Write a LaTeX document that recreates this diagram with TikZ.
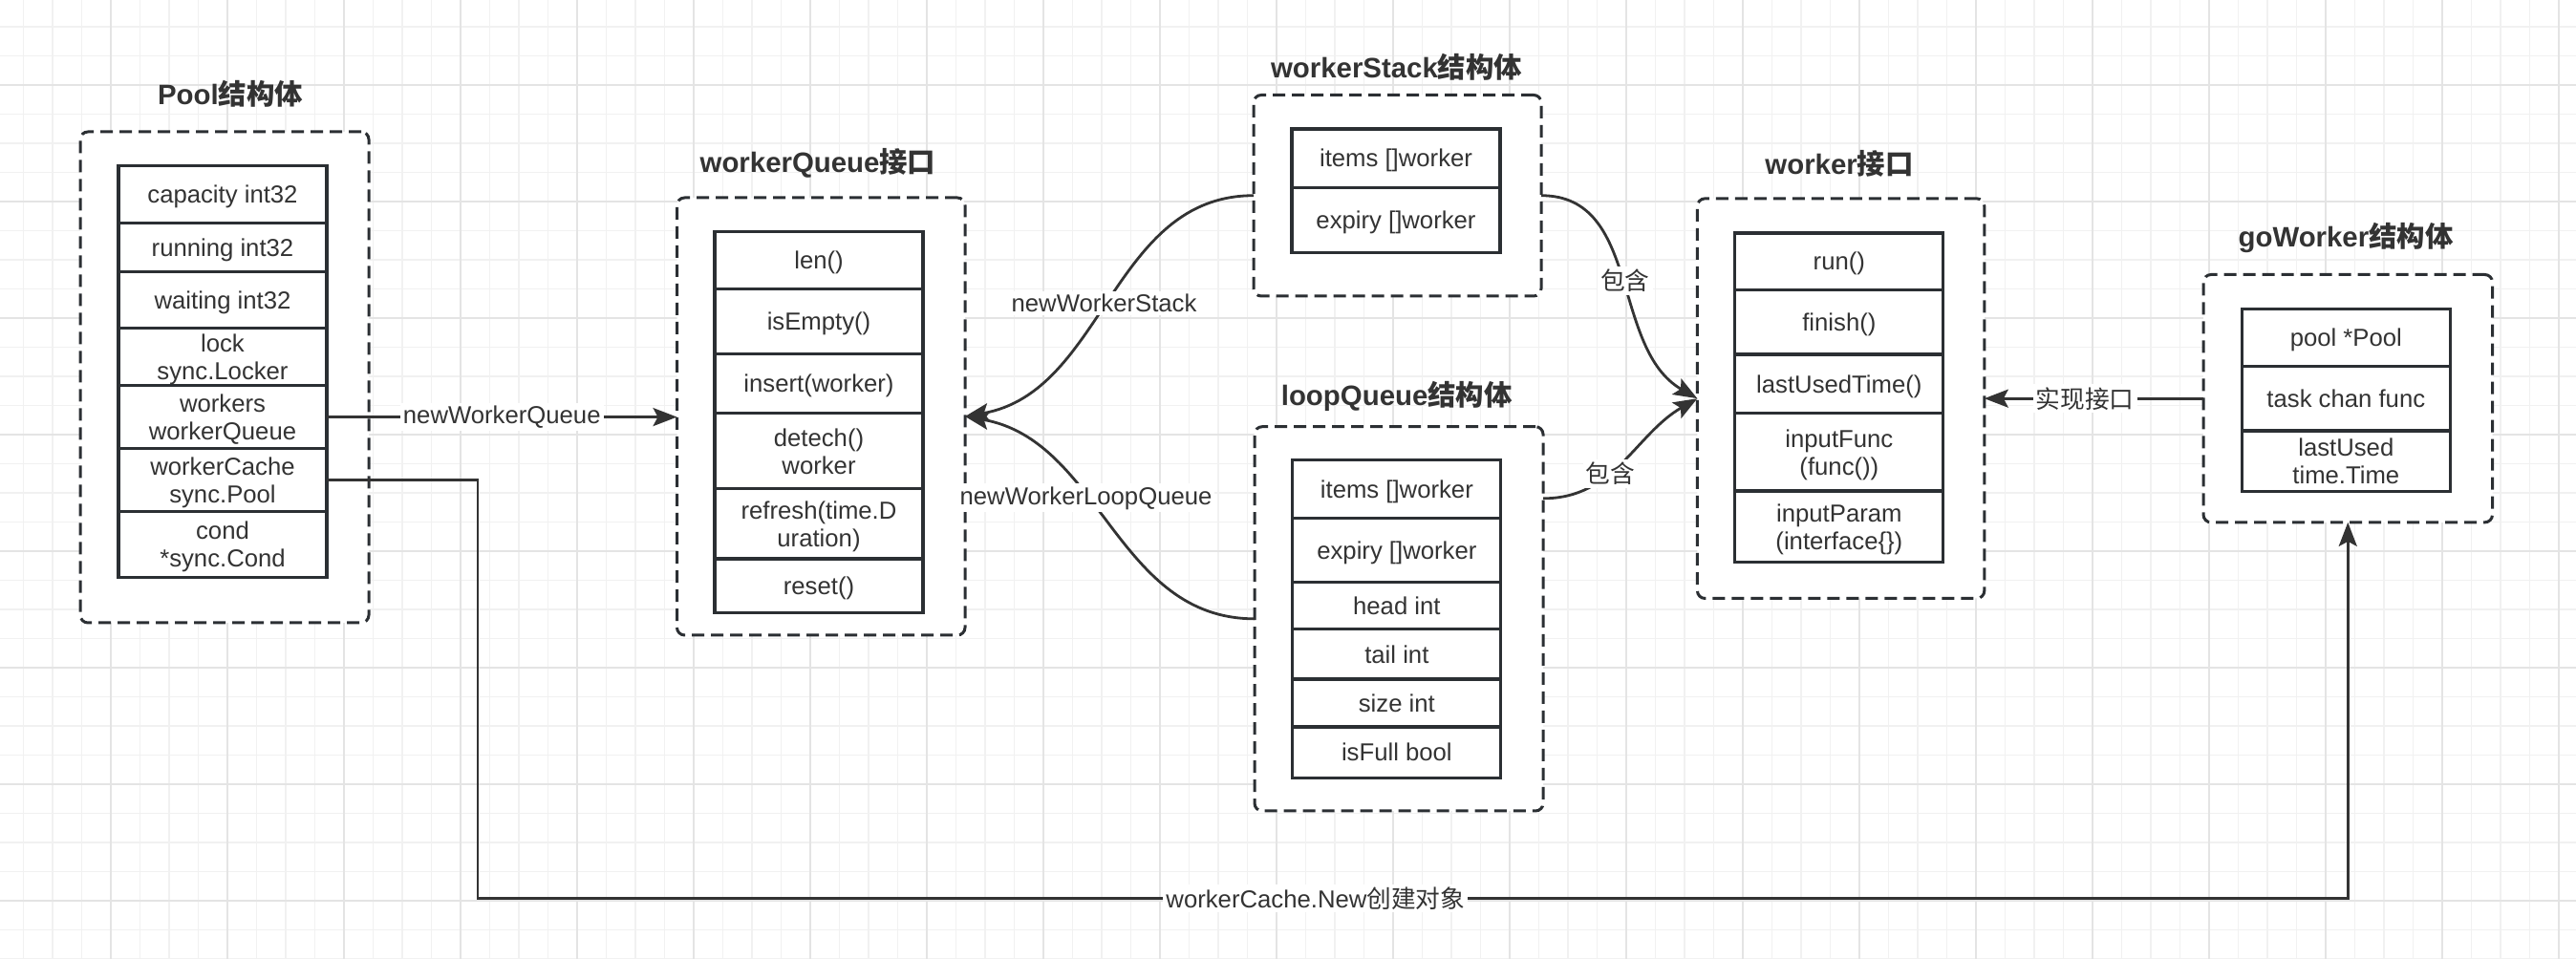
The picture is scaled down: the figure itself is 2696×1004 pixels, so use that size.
\documentclass[tikz,border=0pt]{standalone}
\usepackage{fontspec}
\setmainfont{Liberation Sans}
\newfontfamily\cjk{Noto Sans CJK SC}
\usetikzlibrary{positioning, arrows.meta}

\definecolor{ink}{HTML}{2B2F33}
\definecolor{txt}{HTML}{333333}
\definecolor{gridlo}{HTML}{F1F1F1}
\definecolor{gridhi}{HTML}{E4E4E4}

\tikzset{
  grp/.style={draw=ink, line width=1.5pt, dash pattern=on 6.5pt off 3.5pt,
    rounded corners=4pt, fill=white, inner sep=0pt, outer sep=0pt},
  fld/.style={draw=ink, line width=1.6pt, fill=white, minimum width=109pt,
    inner sep=0pt, outer sep=0pt, align=center, text=txt, text depth=0pt,
    font=\fontsize{12.85}{14.5}\selectfont},
  ttl/.style={text=txt, font=\fontsize{14.7}{17}\selectfont\bfseries},
  conn/.style={draw=txt, line width=1.4pt,
    -{Stealth[length=12.5pt, width=9.5pt, inset=2.5pt]}},
  lbl/.style={fill=white, inner sep=1.5pt, text=txt,
    font=\fontsize{12.85}{14.5}\selectfont},
}

\begin{document}
\begin{tikzpicture}[x=0.5pt, y=0.5pt]
\useasboundingbox (0,0) rectangle (2696,1004);
\fill [white] (0,0) rectangle (2696,1004);

% grid
\foreach \gx in {24.5,55,...,2696}
  \draw [gridlo, line width=0.9pt] (\gx,0) -- (\gx,1004);
\foreach \gy in {0,30.5,...,1004}
  \draw [gridlo, line width=0.9pt] (0,\gy) -- (2696,\gy);
\foreach \gx in {116,238,...,2696}
  \draw [gridhi, line width=1pt] (\gx,0) -- (\gx,1004);
\foreach \gy in {61,183,...,1004}
  \draw [gridhi, line width=1pt] (0,\gy) -- (2696,\gy);

% containers
\node [grp, minimum width=151pt, minimum height=257pt] (poolBox) at (235,609) {};
\node [grp, minimum width=150.75pt, minimum height=229pt] (queueBox) at (859.25,568) {};
\node [grp, minimum width=150.5pt, minimum height=105.25pt] (stackBox) at (1462.5,799.25) {};
\node [grp, minimum width=151pt, minimum height=201.15pt] (loopBox) at (1464,356.15) {};
\node [grp, minimum width=150.2pt, minimum height=209.3pt] (workerBox) at (1926.6,586.8) {};
\node [grp, minimum width=151.25pt, minimum height=129.7pt] (goBox) at (2457.25,586.8) {};

% titles
\node [ttl] (poolTtl) at (241,906) {Pool{\cjk 结构体}};
\node [ttl] (queueTtl) at (856,833) {workerQueue{\cjk 接口}};
\node [ttl] (stackTtl) at (1461.6,934) {workerStack{\cjk 结构体}};
\node [ttl] (loopTtl) at (1461.7,589) {loopQueue{\cjk 结构体}};
\node [ttl] (workerTtl) at (1925,832.6) {worker{\cjk 接口}};
\node [ttl] (goTtl) at (2455,755) {goWorker{\cjk 结构体}};

% Pool fields
\node [fld, minimum height=30.05pt, anchor=north] (poolF1) at (233,830.5) {capacity int32};
\node [fld, minimum height=25.3pt, below=0pt of poolF1] (poolF2) {running int32};
\node [fld, minimum height=29.65pt, below=0pt of poolF2] (poolF3) {waiting int32};
\node [fld, minimum height=30.05pt, below=0pt of poolF3] (poolF4) {lock\\sync.Locker};
\node [fld, minimum height=33pt, below=0pt of poolF4] (poolF5) {workers\\workerQueue};
\node [fld, minimum height=33.05pt, below=0pt of poolF5] (poolF6) {workerCache\\sync.Pool};
\node [fld, minimum height=34.4pt, below=0pt of poolF6] (poolF7) {cond\\*sync.Cond};

% workerQueue methods
\node [fld, minimum height=29.85pt, anchor=north] (queueF1) at (857,761.3) {len()};
\node [fld, minimum height=34pt, below=0pt of queueF1] (queueF2) {isEmpty()};
\node [fld, minimum height=31.25pt, below=0pt of queueF2] (queueF3) {insert(worker)};
\node [fld, minimum height=39.35pt, below=0pt of queueF3] (queueF4) {detech()\\worker};
\node [fld, minimum height=36.75pt, below=0pt of queueF4] (queueF5) {refresh(time.D\\uration)};
\node [fld, minimum height=28.1pt, below=0pt of queueF5] (queueF6) {reset()};

% workerStack fields
\node [fld, minimum height=30.7pt, anchor=north] (stackF1) at (1461,869) {items []worker};
\node [fld, minimum height=34pt, below=0pt of stackF1] (stackF2) {expiry []worker};

% loopQueue fields
\node [fld, minimum height=30.5pt, anchor=north] (loopF1) at (1461.85,522.7) {items []worker};
\node [fld, minimum height=33.5pt, below=0pt of loopF1] (loopF2) {expiry []worker};
\node [fld, minimum height=24.7pt, below=0pt of loopF2] (loopF3) {head int};
\node [fld, minimum height=26.15pt, below=0pt of loopF3] (loopF4) {tail int};
\node [fld, minimum height=25pt, below=0pt of loopF4] (loopF5) {size int};
\node [fld, minimum height=26.65pt, below=0pt of loopF5] (loopF6) {isFull bool};

% worker methods
\node [fld, minimum height=29.7pt, anchor=north] (workerF1) at (1924.85,760) {run()};
\node [fld, minimum height=33.8pt, below=0pt of workerF1] (workerF2) {finish()};
\node [fld, minimum height=30.9pt, below=0pt of workerF2] (workerF3) {lastUsedTime()};
\node [fld, minimum height=40.6pt, below=0pt of workerF3] (workerF4) {inputFunc\\(func())};
\node [fld, minimum height=37.3pt, below=0pt of workerF4] (workerF5) {inputParam\\(interface\{\})};

% goWorker fields
\node [fld, minimum height=30.05pt, anchor=north] (goF1) at (2455.3,680.4) {pool *Pool};
\node [fld, minimum height=33.65pt, below=0pt of goF1] (goF2) {task chan func};
\node [fld, minimum height=31.85pt, below=0pt of goF2] (goF3) {lastUsed\\time.Time};

% constructors
\draw [conn] (poolF5.east) -- node [lbl] {newWorkerQueue} (poolF5.east -| queueBox.west);
\draw [conn] (stackBox.west) to [out=180, in=10]
  node [lbl, pos=0.52] {newWorkerStack} (queueBox.east);
\draw [conn] (loopBox.west) to [out=180, in=-10]
  node [lbl, pos=0.6] {newWorkerLoopQueue} (queueBox.east);

% contains
\draw [conn] (stackBox.east) to [out=0, in=150]
  node [lbl, pos=0.51] {\cjk 包含} (workerBox.west);
\draw [conn] ([yshift=63pt]loopBox.east) to [out=0, in=210]
  node [lbl, pos=0.4] {\cjk 包含} (workerBox.west);

% implements
\draw [conn] (goBox.west) -- node [lbl, pos=0.54] {\cjk 实现接口} (workerBox.east);

% cache
\coordinate (cacheBend) at (500,63.5);
\draw [conn] (poolF6.east) -| (cacheBend) -|
  node [lbl, pos=0.224] {workerCache.New{\cjk 创建对象}} (goBox.south);

\end{tikzpicture}
\end{document}
